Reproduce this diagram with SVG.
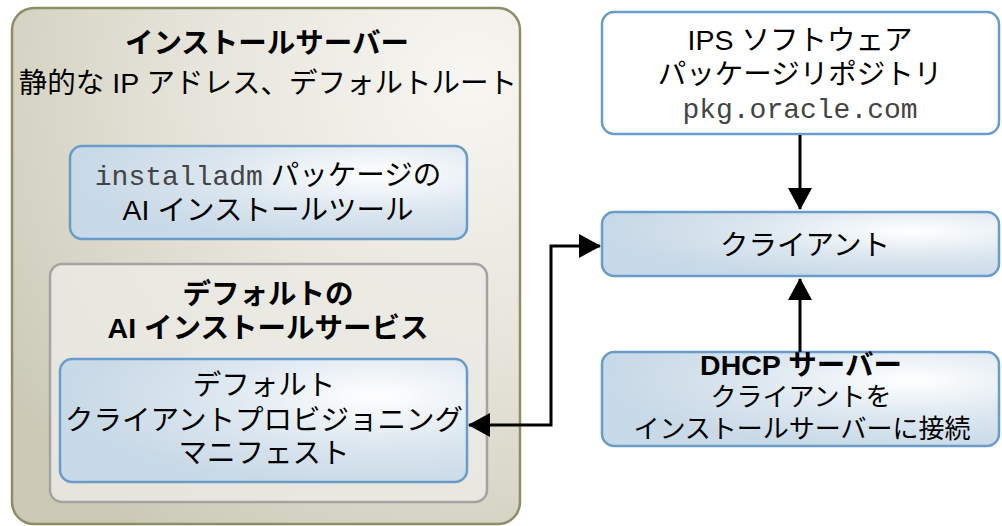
<svg xmlns="http://www.w3.org/2000/svg" width="1002" height="526" viewBox="0 0 1002 526">
<defs>
<radialGradient id="gBlue" cx="0.78" cy="0.3" r="0.75" gradientUnits="objectBoundingBox">
<stop offset="0" stop-color="#ffffff"/>
<stop offset="0.55" stop-color="#dbe6ef"/>
<stop offset="1" stop-color="#c8d9e7"/>
</radialGradient>
<radialGradient id="gServer" cx="470" cy="80" r="560" gradientUnits="userSpaceOnUse">
<stop offset="0" stop-color="#f7f6f2"/>
<stop offset="0.5" stop-color="#e6e4da"/>
<stop offset="1" stop-color="#cbc9b6"/>
</radialGradient>
<marker id="ah" markerWidth="22" markerHeight="24" refX="21" refY="12" orient="auto" markerUnits="userSpaceOnUse">
<path d="M0,0 L22,12 L0,24 Z" fill="#000"/>
</marker>
<marker id="ahs" markerWidth="22" markerHeight="24" refX="1" refY="12" orient="auto" markerUnits="userSpaceOnUse">
<path d="M22,0 L0,12 L22,24 Z" fill="#000"/>
</marker>
</defs>
<style>
text{font-family:"Liberation Sans","Noto Sans CJK JP",sans-serif;font-size:28.5px;fill:#000;text-anchor:middle}
.b{font-weight:bold}
.s{font-size:26px}
.mono{font-family:"Liberation Mono","Noto Sans CJK JP",monospace;font-size:28px;fill:#444}
.blue{fill:url(#gBlue);stroke:#6b9bc8;stroke-width:2.5}
.conn{fill:none;stroke:#000;stroke-width:3}
</style>
<rect width="1002" height="526" fill="#fff"/>
<g id="install-server">
<rect x="12" y="8" width="508" height="516" rx="22" fill="url(#gServer)" stroke="#8e8e66" stroke-width="2.5"/>
<text class="b" x="267" y="53">インストールサーバー</text>
<text x="268" y="93">静的な IP アドレス、デフォルトルート</text>
</g>
<g id="installadm-tools">
<rect class="blue" x="70" y="146" width="397" height="93" rx="12"/>
<text x="268" y="185"><tspan class="mono">installadm</tspan> パッケージの</text>
<text x="268" y="220">AI インストールツール</text>
</g>
<g id="ai-service">
<rect x="50" y="264" width="437" height="238" rx="12" fill="#ebeae4" fill-opacity="0.85" stroke="#a3a3a3" stroke-width="2.5"/>
<text class="b" x="268" y="304">デフォルトの</text>
<text class="b" x="268" y="338">AI インストールサービス</text>
</g>
<g id="manifest">
<rect class="blue" x="60" y="359" width="407" height="123" rx="12"/>
<text x="264" y="395">デフォルト</text>
<text x="264" y="430">クライアントプロビジョニング</text>
<text x="264" y="463">マニフェスト</text>
</g>
<g id="ips-repo">
<rect x="602" y="12" width="397" height="122" rx="12" fill="#fff" stroke="#6b9bc8" stroke-width="2.5"/>
<text x="800" y="50">IPS ソフトウェア</text>
<text x="800" y="84">パッケージリポジトリ</text>
<text class="mono" x="800" y="118">pkg.oracle.com</text>
</g>
<g id="client">
<rect class="blue" x="602" y="212" width="397" height="64" rx="12"/>
<text x="805" y="255">クライアント</text>
</g>
<g id="dhcp-server">
<rect class="blue" x="602" y="352" width="397" height="94" rx="12"/>
<text class="b" x="801" y="375">DHCP サーバー</text>
<text class="s" x="801" y="406">クライアントを</text>
<text class="s" x="802" y="438">インストールサーバーに接続</text>
</g>
<g id="connectors">
<path class="conn" d="M800,135 V209" marker-end="url(#ah)"/>
<path class="conn" d="M800,352 V279" marker-end="url(#ah)"/>
<path class="conn" d="M469,425 H551 V246 H600" marker-start="url(#ahs)" marker-end="url(#ah)"/>
</g>
</svg>
